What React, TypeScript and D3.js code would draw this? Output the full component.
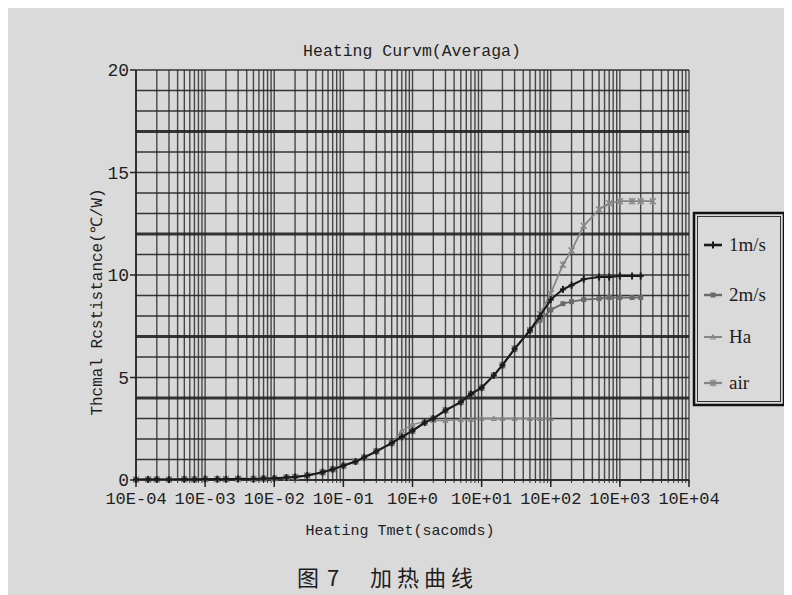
import React, { useEffect } from 'react';
import * as d3 from 'd3';

// values (time in s, resistance in ℃/W)
const sharedTime = [1e-4, 1.5e-4, 2e-4, 3e-4, 5e-4, 7e-4, 1e-3, 1.5e-3, 2e-3, 3e-3, 5e-3, 7e-3, 1e-2, 1.5e-2, 2e-2, 3e-2, 5e-2, 7e-2, 0.1, 0.15, 0.2, 0.3, 0.5];
const sharedValue = [0.02, 0.03, 0.03, 0.02, 0.04, 0.03, 0.05, 0.04, 0.04, 0.06, 0.05, 0.07, 0.08, 0.12, 0.15, 0.22, 0.38, 0.52, 0.7, 0.9, 1.1, 1.4, 1.8];

const midTime = [0.7, 1, 1.5, 2, 3, 5, 7, 10, 15, 20, 30, 50];
const midValue = [2.1, 2.4, 2.8, 3.0, 3.4, 3.8, 4.2, 4.5, 5.1, 5.6, 6.4, 7.3];

const m1Time = [70, 100, 150, 200, 300, 500, 700, 1000, 1500, 2000];
const m1Value = [8.0, 8.8, 9.3, 9.5, 9.8, 9.9, 9.9, 9.95, 9.95, 9.95];

const m2Time = [70, 100, 150, 200, 300, 500, 700, 1000, 1500, 2000];
const m2Value = [7.8, 8.3, 8.6, 8.7, 8.8, 8.85, 8.9, 8.9, 8.9, 8.9];

const haTime = [0.7, 1, 1.5, 2, 3, 5, 7, 10, 15, 20, 30, 50, 70, 100];
const haValue = [2.4, 2.7, 2.85, 2.9, 2.9, 2.95, 2.95, 3.0, 3.0, 3.0, 3.0, 3.0, 3.0, 3.0];

const airTime = [70, 100, 150, 200, 300, 500, 700, 1000, 1500, 2000, 3000];
const airValue = [8.1, 9.1, 10.5, 11.2, 12.4, 13.2, 13.5, 13.6, 13.6, 13.6, 13.6];

const seriesNames = ['1m/s', '2m/s', 'Ha', 'air'];
const xTickLabels = ['10E-04', '10E-03', '10E-02', '10E-01', '10E+0', '10E+01', '10E+02', '10E+03', '10E+04'];
const yTicks = [0, 5, 10, 15, 20];
const thickRows = [17, 12, 7, 4];

const zip = (t: number[], v: number[]) => t.map((d, i) => [d, v[i]] as [number, number]);

const series = [
  { name: seriesNames[0], data: zip([...sharedTime, ...midTime, ...m1Time], [...sharedValue, ...midValue, ...m1Value]), color: '#1a1a1a', mark: 'plus', w: 2 },
  { name: seriesNames[1], data: zip([...sharedTime, ...midTime, ...m2Time], [...sharedValue, ...midValue, ...m2Value]), color: '#6a6a6a', mark: 'square', w: 1.8 },
  { name: seriesNames[2], data: zip([...sharedTime, ...haTime], [...sharedValue, ...haValue]), color: '#858585', mark: 'tri', w: 1.4 },
  { name: seriesNames[3], data: zip([...sharedTime, ...midTime, ...airTime], [...sharedValue, ...midValue, ...airValue]), color: '#858585', mark: 'star', w: 1.7 },
];

const mono = '"Liberation Mono", "DejaVu Sans Mono", monospace';

const Marker = ({ kind, x, y, color }: { kind: string; x: number; y: number; color: string }) => {
  if (kind === 'plus') return <g stroke={color} strokeWidth={2}><line x1={x - 3} x2={x + 3} y1={y} y2={y} /><line x1={x} x2={x} y1={y - 3.5} y2={y + 3.5} /></g>;
  if (kind === 'square') return <rect x={x - 2.5} y={y - 2.5} width={5} height={5} fill={color} />;
  if (kind === 'tri') return <path d={`M${x},${y - 2.5}L${x + 2.5},${y + 2}L${x - 2.5},${y + 2}Z`} fill="none" stroke={color} strokeWidth={1} />;
  return <g stroke={color} strokeWidth={1.4}><line x1={x - 3} x2={x + 3} y1={y - 3} y2={y + 3} /><line x1={x - 3} x2={x + 3} y1={y + 3} y2={y - 3} /><line x1={x} x2={x} y1={y - 3.5} y2={y + 3.5} /></g>;
};

const App = () => {
  useEffect(() => {
    document.body.style.overflow = 'hidden';
  }, []);

  const x = d3.scaleLog().domain([1e-4, 1e4]).range([136, 689]);
  const y = d3.scaleLinear().domain([0, 20]).range([480, 70]);
  const line = d3.line<[number, number]>().x(d => x(d[0])).y(d => y(d[1]));

  const vLines: number[] = [];
  for (let e = -4; e < 4; e++) for (let k = 1; k < 10; k++) vLines.push(k * Math.pow(10, e));
  vLines.push(1e4);
  const decades = d3.range(-4, 5).map(e => Math.pow(10, e));
  const hLines = d3.range(0, 21);

  const legendY = [245, 295, 337, 383];

  return (
    <svg width={784} height={587} style={{ display: 'block' }}>
      <g transform="translate(-8,-8)">
        <rect x={8} y={8} width={784} height={587} fill="#dadada" />
        <rect x={136} y={70} width={553} height={410} fill="#d8d8d8" />

        {vLines.map((v, i) => (
          <line key={'v' + i} x1={x(v)} x2={x(v)} y1={70} y2={480} stroke="#2e2e2e" strokeWidth={1.4} strokeOpacity={0.85} />
        ))}
        {hLines.map(h => (
          <line key={'h' + h} x1={136} x2={689} y1={y(h)} y2={y(h)} stroke="#222" strokeWidth={thickRows.includes(h) ? 3 : 1.6} strokeOpacity={0.9} />
        ))}

        {/* axes */}
        <line x1={136} x2={136} y1={70} y2={480} stroke="#222" strokeWidth={1.6} />
        <line x1={136} x2={689} y1={480} y2={480} stroke="#222" strokeWidth={1.6} />
        {yTicks.map(t => (
          <g key={'yt' + t}>
            <line x1={130} x2={136} y1={y(t)} y2={y(t)} stroke="#222" strokeWidth={1.5} />
            <text x={129} y={y(t) + 6} textAnchor="end" fontFamily={mono} fontSize={18} fill="#1e1e1e">{t}</text>
          </g>
        ))}
        {vLines.map((v, i) => (
          <line key={'xm' + i} x1={x(v)} x2={x(v)} y1={480} y2={483} stroke="#333" strokeWidth={1} />
        ))}
        {decades.map((d, i) => (
          <g key={'xt' + i}>
            <line x1={x(d)} x2={x(d)} y1={480} y2={487} stroke="#222" strokeWidth={1.5} />
            <text x={x(d)} y={504} textAnchor="middle" fontFamily={mono} fontSize={17} fill="#1e1e1e">{xTickLabels[i]}</text>
          </g>
        ))}

        {/* series */}
        {[...series].reverse().map(s => (
          <g key={s.name}>
            <path d={line(s.data) || ''} fill="none" stroke={s.color} strokeWidth={s.w} />
            {s.data.map((d, i) => <Marker key={i} kind={s.mark} x={x(d[0])} y={y(d[1])} color={s.color} />)}
          </g>
        ))}

        {/* titles */}
        <text x={412} y={56} textAnchor="middle" fontFamily={mono} fontSize={16.5} fill="#1e1e1e">Heating Curvm(Averaga)</text>
        <text x={400} y={535} textAnchor="middle" fontFamily={mono} fontSize={15} fill="#1e1e1e">Heating Tmet(sacomds)</text>
        <text transform="translate(102,302) rotate(-90)" textAnchor="middle" fontFamily={mono} fontSize={16} fill="#1e1e1e">Thcmal Rcstistance(℃/W)</text>

        {/* legend */}
        <rect x={694} y={213} width={90} height={192} fill="#dadada" stroke="#111" strokeWidth={2.5} />
        <rect x={697.5} y={216.5} width={83} height={185} fill="none" stroke="#333" strokeWidth={1} />
        {series.map((s, i) => (
          <g key={'lg' + i}>
            <line x1={704} x2={722} y1={legendY[i]} y2={legendY[i]} stroke={s.color} strokeWidth={s.w + 0.6} />
            <Marker kind={s.mark} x={713} y={legendY[i]} color={s.color} />
            <text x={729} y={legendY[i] + 6} fontFamily='"Liberation Serif", serif' fontSize={19} fill="#1e1e1e">{s.name}</text>
          </g>
        ))}

        {/* caption */}
        <text x={297} y={586} fontFamily='"Noto Sans CJK SC", sans-serif' fontSize={22} fill="#1e1e1e">图</text>
        <text x={327} y={586} fontFamily='"Noto Sans CJK SC", sans-serif' fontSize={22} fill="#1e1e1e">7</text>
        <text x={370} y={586} fontFamily='"Noto Sans CJK SC", sans-serif' fontSize={22} letterSpacing={5} fill="#1e1e1e">加热曲线</text>
      </g>
    </svg>
  );
};

export default App;
